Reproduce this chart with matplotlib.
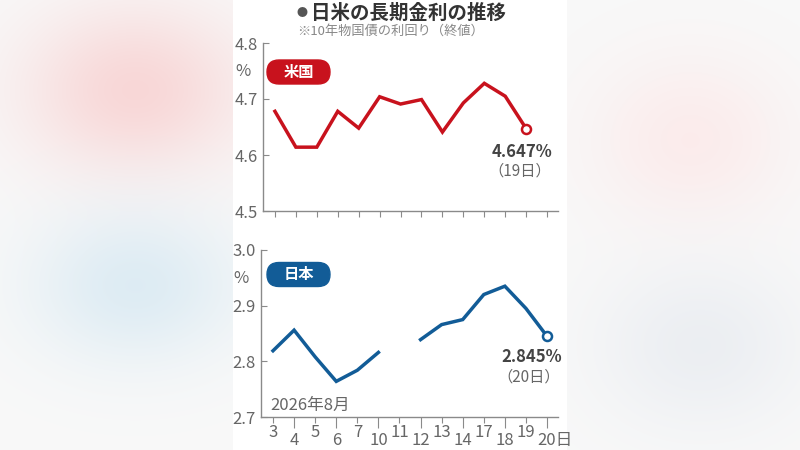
import numpy as np
import matplotlib
matplotlib.use('Agg')
import matplotlib.pyplot as plt
from matplotlib.patches import FancyBboxPatch
from matplotlib.transforms import ScaledTranslation

plt.rcParams['font.family'] = ['Noto Sans CJK JP', 'DejaVu Sans']

# data (August 2026 trading days)
days = ['3', '4', '5', '6', '7', '10', '11', '12', '13', '14', '17', '18', '19', '20日']
us_yield = [4.678, 4.614, 4.614, 4.678, 4.648, 4.704, 4.691, 4.699, 4.641, 4.693,
            4.728, 4.705, 4.647, np.nan]
jp_yield = [2.819, 2.856, 2.808, 2.764, 2.784, 2.816, np.nan, 2.839, 2.866, 2.875,
            2.920, 2.935, 2.895, 2.845]
us_ticks = [4.5, 4.6, 4.7, 4.8]
jp_ticks = [2.7, 2.8, 2.9, 3.0]

RED = '#c8121d'
BLUE = '#125c97'
GRAY = '#666666'
AXC = '#8a8a8a'

fig = plt.figure(figsize=(8, 4.5), dpi=100)

# blurred backdrop behind the white panel
bg = fig.add_axes([0, 0, 1, 1], zorder=-10)
yy, xx = np.mgrid[0:450, 0:800]
img = np.ones((450, 800, 3)) * 0.975
blobs = [((135, 90), (80, 60), (0.975, 0.845, 0.845)),
         ((135, 285), (75, 55), (0.87, 0.925, 0.955)),
         ((690, 140), (70, 60), (0.985, 0.925, 0.925)),
         ((700, 345), (75, 60), (0.925, 0.935, 0.95))]
for (cx, cy), (sx, sy), col in blobs:
    w = np.exp(-((xx - cx) ** 2 / (2 * sx ** 2) + (yy - cy) ** 2 / (2 * sy ** 2)))[..., None]
    img = img * (1 - w) + np.array(col) * w
img[:, 233:567] = 1.0
bg.imshow(img, aspect='auto', extent=[0, 1, 0, 1])
bg.set_xlim(0, 1)
bg.set_ylim(0, 1)
bg.axis('off')

x = np.arange(len(days))


def style_axes(ax, ticks, lo, hi):
    ax.set_xlim(-0.57, len(days) - 0.48)
    ax.set_ylim(lo, hi)
    for s in ['top', 'right']:
        ax.spines[s].set_visible(False)
    for s in ['left', 'bottom']:
        ax.spines[s].set_color(AXC)
        ax.spines[s].set_linewidth(1.0)
    ax.set_facecolor('none')
    ax.set_yticks(ticks, labels=[f'{t:.1f}' for t in ticks])
    ax.set_yticks([hi - 0.048], labels=['%'], minor=True)
    ax.tick_params(axis='y', which='major', direction='in', length=4, color=AXC,
                   labelsize=12, labelcolor=GRAY, pad=4)
    ax.tick_params(axis='y', which='minor', length=0, labelsize=12, labelcolor=GRAY, pad=9)
    ax.set_xticks(x)
    ax.tick_params(axis='x', direction='out', length=4, color=AXC,
                   labelsize=12, labelcolor=GRAY, pad=1)


def badge(ax_y_top, text, color):
    # pill label, positioned in inches from the figure's top-left
    y0 = 4.5 - ax_y_top - 0.24
    fig.patches.append(FancyBboxPatch((2.67, y0), 0.63, 0.24,
                                      boxstyle='round,pad=0,rounding_size=0.12',
                                      transform=fig.dpi_scale_trans,
                                      fc=color, ec=color, lw=1))
    fig.text(2.985, y0 + 0.12, text, transform=fig.dpi_scale_trans, ha='center',
             va='center', fontsize=11, fontweight='bold', color='white')


# US
ax1 = fig.add_axes([263 / 800, 1 - 211 / 450, 295 / 800, 168 / 450])
style_axes(ax1, us_ticks, 4.5, 4.8)
ax1.set_xticklabels([])
ax1.plot(x, us_yield, color=RED, lw=2.5, solid_joinstyle='miter')
ax1.plot(x[12], us_yield[12], 'o', ms=6.5, mfc='white', mec=RED, mew=1.8)
ax1.text(11.8, 4.605, '4.647%', ha='center', va='center', fontsize=12,
         fontweight='bold', color='#444444')
ax1.text(11.7, 4.572, '（19日）', ha='center', va='center', fontsize=11, color=GRAY)
badge(0.60, '米国', RED)

# Japan
ax2 = fig.add_axes([261 / 800, 1 - 417 / 450, 297 / 800, 167 / 450])
style_axes(ax2, jp_ticks, 2.7, 3.0)
ax2.set_xticklabels(days)
for i, t in enumerate(ax2.xaxis.get_major_ticks()):
    if i % 2 == 1:
        t.tick1line.set_markersize(8)
for i, lbl in enumerate(ax2.get_xticklabels()):
    dx = 8 / 100 if i == len(days) - 1 else 0
    dy = -8 / 100 if i % 2 == 1 else 0
    lbl.set_transform(lbl.get_transform() + ScaledTranslation(dx, dy, fig.dpi_scale_trans))
ax2.plot(x, jp_yield, color=BLUE, lw=2.5, solid_joinstyle='miter')
ax2.plot(x[13], jp_yield[13], 'o', ms=6.5, mfc='white', mec=BLUE, mew=1.8)
ax2.text(12.25, 2.808, '2.845%', ha='center', va='center', fontsize=12,
         fontweight='bold', color='#444444')
ax2.text(12.15, 2.771, '（20日）', ha='center', va='center', fontsize=11, color=GRAY)
ax2.text(0.03, 0.07, '2026年8月', transform=ax2.transAxes, ha='left', va='center',
         fontsize=12, color=GRAY)
badge(2.625, '日本', BLUE)

# title
fig.text(0.511, 1 - 13 / 450, '日米の長期金利の推移', ha='center', va='center',
         fontsize=14, fontweight='bold', color='#333333')
fig.text(302 / 800, 1 - 13 / 450, '●', ha='center', va='center', fontsize=8, color='#555555')
fig.text(391 / 800, 1 - 31 / 450, '※10年物国債の利回り（終値）', ha='center', va='center',
         fontsize=9.5, color='#888888')

fig.savefig('out.png', dpi=100)
